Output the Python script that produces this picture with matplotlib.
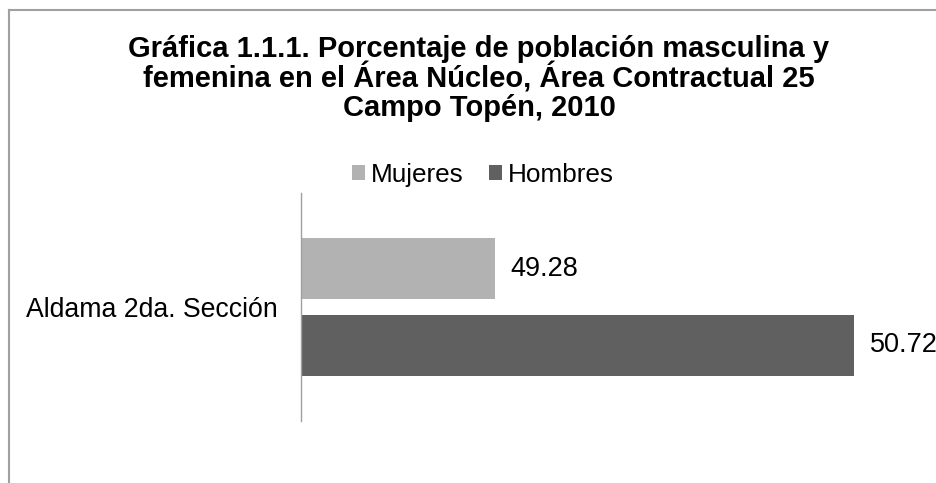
import matplotlib
matplotlib.use("Agg")
import matplotlib.pyplot as plt
from matplotlib.patches import Patch
from matplotlib.lines import Line2D

plt.rcParams['font.family'] = ['Liberation Sans', 'DejaVu Sans']

title = "Gráfica 1.1.1. Porcentaje de población masculina y\nfemenina en el Área Núcleo, Área Contractual 25\nCampo Topén, 2010"
categories = ["Aldama 2da. Sección"]
series_names = ["Mujeres", "Hombres"]
mujeres = [49.28]
hombres = [50.72]
colors = ["#b2b2b2", "#606060"]

W, H = 936, 483
fig = plt.figure(figsize=(W / 100, H / 100), dpi=100)
fig.patch.set_facecolor("white")

# chart-area border (cropped at right/bottom)
fig.add_artist(Line2D([9 / W, 1.0], [1 - 9.5 / H, 1 - 9.5 / H], transform=fig.transFigure,
                      color="#a0a0a0", lw=1.5))
fig.add_artist(Line2D([8.5 / W, 8.5 / W], [0, 1 - 9.5 / H], transform=fig.transFigure,
                      color="#a0a0a0", lw=1.5))

ax = fig.add_axes([301 / W, 1 - 421 / H, 623 / W, 228 / H])
ax.set_xlim(48.5, 51.0)
ax.set_ylim(-0.5, 0.5)

bar_h = 0.268
offset = 0.168
y0 = list(range(len(categories)))
b1 = ax.barh([y + offset for y in y0], mujeres, height=bar_h, left=0, color=colors[0], label=series_names[0])
b2 = ax.barh([y - offset for y in y0], hombres, height=bar_h, left=0, color=colors[1], label=series_names[1])
ax.bar_label(b1, labels=[f"{v:.2f}" for v in mujeres], padding=11, fontsize=19.5, color="black")
ax.bar_label(b2, labels=[f"{v:.2f}" for v in hombres], padding=11, fontsize=19.5, color="black")

ax.set_yticks(y0)
ax.set_yticklabels(categories, fontsize=19.2)
ax.tick_params(axis='y', length=0, pad=16.5)
ax.set_xticks([])
for s in ["top", "right", "bottom"]:
    ax.spines[s].set_visible(False)
ax.spines["left"].set_color("#a0a0a0")
ax.spines["left"].set_linewidth(1.0)

fig.text(479 / W, 1 - 35 / H, title, ha="center", va="top", fontsize=21, fontweight="bold",
         linespacing=1.0)

handles = [Patch(facecolor=colors[0]), Patch(facecolor=colors[1])]
fig.legend(handles, series_names, loc="center", bbox_to_anchor=(483 / W, 1 - 175 / H), ncol=2,
           frameon=False, fontsize=18.8, handlelength=0.5, handleheight=0.5, handletextpad=0.2,
           columnspacing=1.0, borderpad=0)

fig.savefig("out.png", dpi=100)
